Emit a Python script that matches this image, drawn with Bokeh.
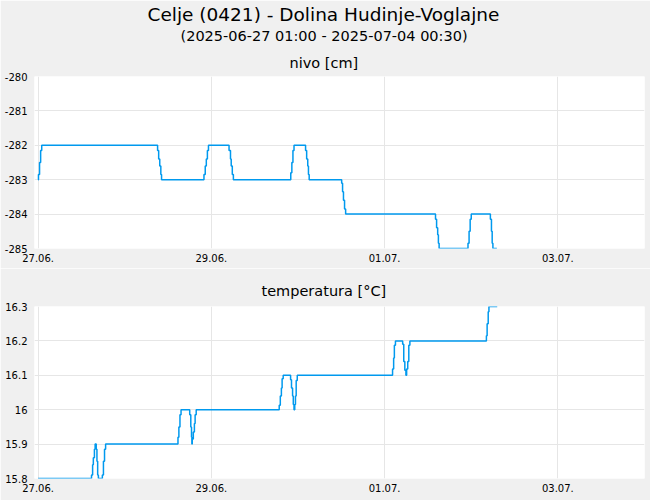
import pandas as pd
from bokeh.plotting import figure
from bokeh.layouts import column
from bokeh.models import (Title, FixedTicker, DatetimeTickFormatter,
                          NumeralTickFormatter, Range1d, ColumnDataSource)
from bokeh.embed import file_html
from bokeh.resources import INLINE

# ---------------- data ----------------
MAIN_TITLE = "Celje (0421) - Dolina Hudinje-Voglajne"
SUB_TITLE = "(2025-06-27 01:00 - 2025-07-04 00:30)"
LEVEL_TITLE = "nivo [cm]"
TEMP_TITLE = "temperatura [°C]"

BASE_TIME = "2025-06-27 00:00"
X_START = "2025-06-26 23:00"
X_END = "2025-07-04 00:00"
X_TICKS = ["2025-06-27", "2025-06-29", "2025-07-01", "2025-07-03"]

# water level: hours after BASE_TIME and value (step changes)
LEVEL_HOURS = [0, 0.1, 0.4, 0.7, 1.0,
               33.1, 33.4, 33.7, 34.0, 34.2,
               45.95, 46.3, 46.6, 46.9, 47.2,
               52.9, 53.3, 53.5, 53.8, 54.1,
               70.0, 70.3, 70.6, 70.9,
               74.1, 74.4, 74.7, 74.9, 75.1,
               84.1, 84.35, 84.6, 84.9, 85.2,
               110.1, 110.4, 110.7, 110.9, 111.1,
               119.1, 119.4, 119.7, 120.0,
               125.3, 125.6, 125.8, 126.0, 127.1]
LEVEL_VALUES = [-283, -282.85, -282.5, -282.15, -282,
                -282.15, -282.4, -282.6, -282.85, -283,
                -282.85, -282.6, -282.4, -282.15, -282,
                -282.15, -282.4, -282.6, -282.85, -283,
                -282.8, -282.5, -282.15, -282,
                -282.15, -282.4, -282.6, -282.85, -283,
                -283.1, -283.35, -283.6, -283.85, -284,
                -284.15, -284.4, -284.6, -284.85, -285,
                -284.85, -284.5, -284.15, -284,
                -284.15, -284.5, -284.85, -285, -285]
LEVEL_TICKS = [-285, -284, -283, -282, -281, -280]

TEMP_HOURS = [0, 14.8, 15.1, 15.3, 15.6, 15.8, 16.1, 16.3, 16.5, 16.7,
              17.8, 18.1, 18.4, 18.7,
              38.75, 39.0, 39.3, 39.6,
              42.0, 42.3, 42.5, 42.6, 42.7, 43.0, 43.3, 43.5, 43.8,
              66.8, 67.1, 67.4, 67.6, 67.9,
              69.95, 70.2, 70.5, 70.7, 70.9, 71.1, 71.3, 71.5, 71.8,
              98.2, 98.5, 98.7, 99.0,
              101.0, 101.3, 101.6, 101.9, 102.1, 102.4, 102.7, 103.0,
              124.2, 124.4, 124.7, 124.9, 127.2]
TEMP_VALUES = [15.8, 15.81, 15.84, 15.86, 15.885, 15.9, 15.885, 15.85, 15.81, 15.8,
               15.81, 15.85, 15.885, 15.9,
               15.92, 15.95, 15.985, 16.0,
               15.985, 15.95, 15.92, 15.9, 15.915, 15.935, 15.96, 15.985, 16.0,
               16.013, 16.04, 16.063, 16.09, 16.1,
               16.087, 16.063, 16.04, 16.015, 16.0, 16.015, 16.04, 16.085, 16.1,
               16.118, 16.15, 16.187, 16.2,
               16.19, 16.14, 16.115, 16.1, 16.118, 16.14, 16.187, 16.2,
               16.215, 16.25, 16.285, 16.3, 16.3]
TEMP_TICKS = [15.8, 15.9, 16.0, 16.1, 16.2, 16.3]

LINE_COLOR = "#0099ee"
FONT = "DejaVu Sans"

# ---------------- helpers ----------------
base = pd.Timestamp(BASE_TIME)


def to_times(hours):
    return [base + pd.Timedelta(hours=h) for h in hours]


def ms(ts):
    return pd.Timestamp(ts).value / 1e6


def make_fig(height, top, bottom, y0, y1, yticks, yfmt):
    p = figure(width=650, height=height, x_axis_type="datetime",
               x_range=Range1d(ms(X_START), ms(X_END)),
               y_range=Range1d(y0, y1),
               output_backend="svg", toolbar_location=None, title=None,
               min_border_left=34, min_border_right=6,
               min_border_top=top, min_border_bottom=bottom)
    p.border_fill_color = "#f0f0f0"
    p.background_fill_color = "white"
    p.outline_line_color = None
    for ax in (p.xaxis[0], p.yaxis[0]):
        ax.axis_line_color = None
        ax.major_tick_line_color = None
        ax.minor_tick_line_color = None
        ax.major_tick_out = 0
        ax.major_tick_in = 0
        ax.minor_tick_out = 0
        ax.major_label_text_font = FONT
        ax.major_label_text_font_size = "10px"
        ax.major_label_text_color = "#000000"
    p.xaxis[0].ticker = FixedTicker(ticks=[ms(t) for t in X_TICKS])
    p.xaxis[0].formatter = DatetimeTickFormatter(
        days="%d.%m.", months="%d.%m.", hours="%d.%m.", years="%d.%m.")
    p.xaxis[0].major_label_standoff = 5
    p.yaxis[0].ticker = FixedTicker(ticks=yticks)
    p.yaxis[0].formatter = yfmt
    p.yaxis[0].major_label_standoff = 7
    p.xgrid.grid_line_color = "#e6e6e6"
    p.ygrid.grid_line_color = "#e6e6e6"
    return p


def add_title(p, text, size, standoff, offset):
    p.add_layout(Title(text=text, align="left", offset=offset,
                       text_font=FONT, text_font_size=size,
                       text_font_style="normal", text_color="#000000",
                       standoff=standoff), "above")


# ---------------- level ----------------
p1 = make_fig(268, 76, 20, LEVEL_TICKS[0], LEVEL_TICKS[-1], LEVEL_TICKS,
              NumeralTickFormatter(format="0"))
add_title(p1, LEVEL_TITLE, "14.5px", 12, 255)
add_title(p1, SUB_TITLE, "14.5px", 5, 146)
add_title(p1, MAIN_TITLE, "18.5px", -2, 113)
src1 = ColumnDataSource(dict(t=to_times(LEVEL_HOURS), v=LEVEL_VALUES))
p1.step("t", "v", source=src1, mode="after", line_color=LINE_COLOR, line_width=1.5)

# ---------------- temperature ----------------
p2 = make_fig(232, 38, 22, TEMP_TICKS[0], TEMP_TICKS[-1], TEMP_TICKS,
              NumeralTickFormatter(format="0.[0]"))
add_title(p2, TEMP_TITLE, "14.5px", 16, 227)
src2 = ColumnDataSource(dict(t=to_times(TEMP_HOURS), v=TEMP_VALUES))
p2.step("t", "v", source=src2, mode="after", line_color=LINE_COLOR, line_width=1.5)

layout = column(p1, p2, spacing=0)
open("out.html", "w").write(file_html(layout, INLINE))
